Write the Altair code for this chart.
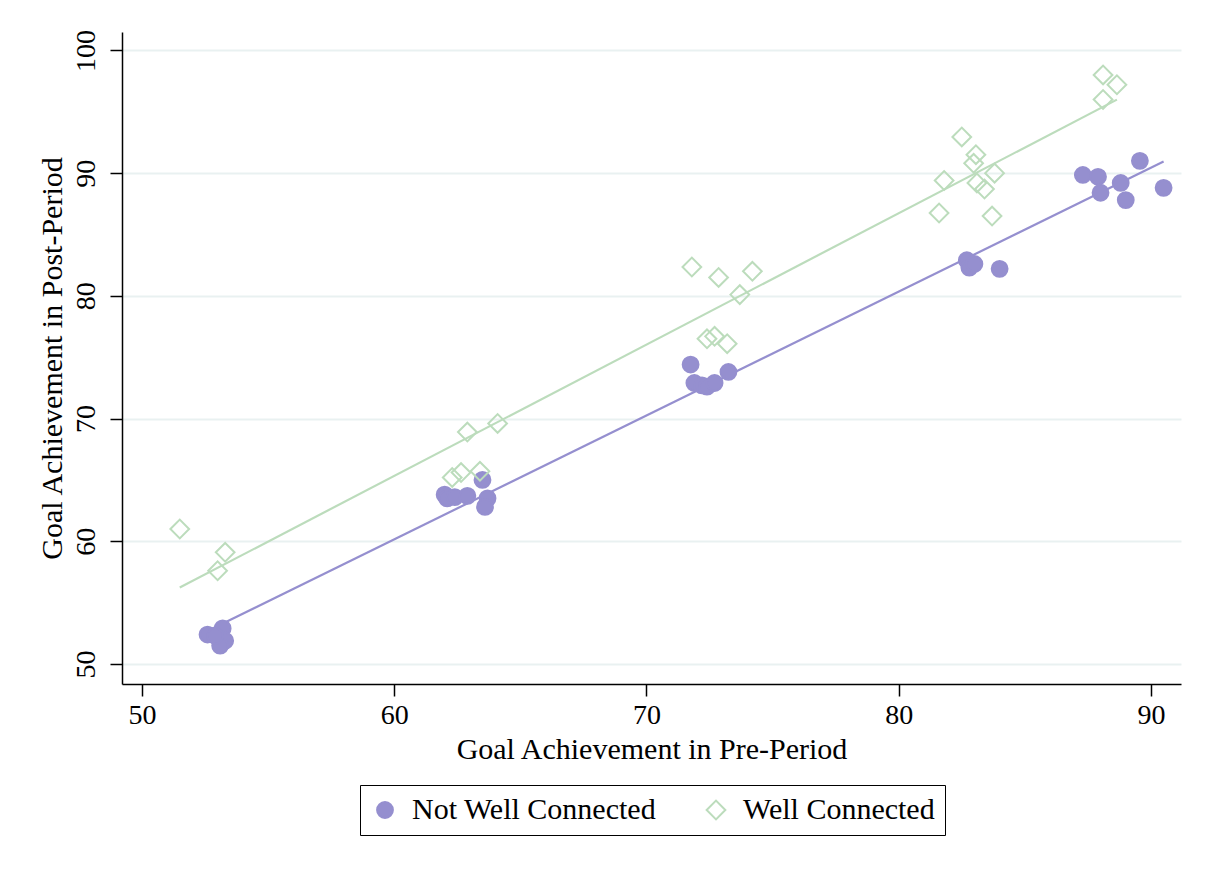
import altair as alt
import pandas as pd

# Not Well Connected (purple filled circles)
nwc_pre = [52.6, 53.2, 53.3, 53.1, 52.9, 62.0, 62.1, 62.4, 62.9, 63.5, 63.7, 63.6,
           71.75, 71.9, 72.2, 72.4, 72.7, 73.25, 82.7, 82.8, 83.0, 84.0,
           87.3, 87.9, 88.0, 88.8, 89.0, 89.56, 90.5]
nwc_post = [52.4, 52.9, 51.9, 51.5, 52.3, 63.8, 63.5, 63.6, 63.7, 65.0, 63.5, 62.8,
            74.4, 72.9, 72.7, 72.6, 72.9, 73.8, 82.9, 82.3, 82.6, 82.2,
            89.85, 89.7, 88.4, 89.2, 87.8, 91.0, 88.8]

# Well Connected (green hollow diamonds)
wc_pre = [51.5, 53.3, 53.0, 62.9, 64.1, 62.3, 62.65, 63.4,
          71.8, 72.86, 74.2, 73.7, 72.4, 72.7, 73.2,
          82.5, 83.06, 82.97, 81.8, 83.8, 83.1, 83.4, 81.6, 83.7,
          88.1, 88.65, 88.1]
wc_post = [61.0, 59.1, 57.6, 68.9, 69.6, 65.2, 65.6, 65.7,
           82.35, 81.5, 82.0, 80.1, 76.5, 76.7, 76.1,
           92.95, 91.5, 90.8, 89.4, 90.0, 89.2, 88.7, 86.75, 86.5,
           98.0, 97.2, 96.0]

groups = ["Not Well Connected", "Well Connected"]
x_ticks = [50, 60, 70, 80, 90]
y_ticks = [50, 60, 70, 80, 90, 100]

df = pd.DataFrame({
    "pre": nwc_pre + wc_pre,
    "post": nwc_post + wc_post,
    "group": [groups[0]] * len(nwc_pre) + [groups[1]] * len(wc_pre),
})

PURPLE = "#958fcf"
GREEN = "#bcdcbc"
FONT = "Liberation Serif"

xs = alt.Scale(domain=[49.21, 91.19], nice=False, zero=False)
ys = alt.Scale(domain=[48.37, 101.5], nice=False, zero=False)
cs = alt.Scale(domain=groups, range=[PURPLE, GREEN])

x_enc = alt.X("pre:Q", scale=xs,
              axis=alt.Axis(values=x_ticks, title="Goal Achievement in Pre-Period",
                            grid=False, labelPadding=5, titlePadding=5))
y_enc = alt.Y("post:Q", scale=ys,
              axis=alt.Axis(values=y_ticks, title="Goal Achievement in Post-Period",
                            grid=True, gridColor="#e9f1f1", gridWidth=2,
                            labelAngle=270, labelAlign="center", labelBaseline="bottom",
                            labelPadding=10, titlePadding=5))

lines = alt.Chart(df).transform_regression(
    "pre", "post", groupby=["group"]
).mark_line(strokeWidth=2.2).encode(
    x=x_enc,
    y=y_enc,
    color=alt.Color("group:N", scale=cs, title=None),
)

points = alt.Chart(df).mark_point(strokeWidth=2, opacity=1).encode(
    x=x_enc,
    y=y_enc,
    color=alt.Color("group:N", scale=cs, title=None),
    fill=alt.Fill("group:N", scale=alt.Scale(domain=groups, range=[PURPLE, "transparent"]),
                  title=None),
    shape=alt.Shape("group:N", scale=alt.Scale(domain=groups, range=["circle", "diamond"]),
                    title=None),
    size=alt.Size("group:N", scale=alt.Scale(domain=groups, range=[250, 350]), title=None),
)

chart = alt.layer(lines, points).properties(
    width=1059,
    height=652,
    autosize=alt.AutoSizeParams(type="none"),
    padding={"left": 114, "top": 24, "right": 22, "bottom": 180},
).configure_view(
    stroke=None
).configure_axis(
    labelFont=FONT, titleFont=FONT, labelFontSize=28, titleFontSize=30,
    titleFontWeight="normal", labelColor="black", titleColor="black",
    tickColor="black", domainColor="black", tickSize=12, tickWidth=1.5,
    domainWidth=1.5,
).configure_legend(
    orient="none", legendX=238, legendY=753, direction="horizontal",
    strokeColor="black", padding=10, labelFont=FONT, labelFontSize=30,
    labelColor="black", symbolStrokeWidth=2, columnPadding=44,
    labelOffset=12, symbolOpacity=1, labelLimit=400,
)

chart.save("out.html", embed_options={"renderer": "svg", "actions": False})
